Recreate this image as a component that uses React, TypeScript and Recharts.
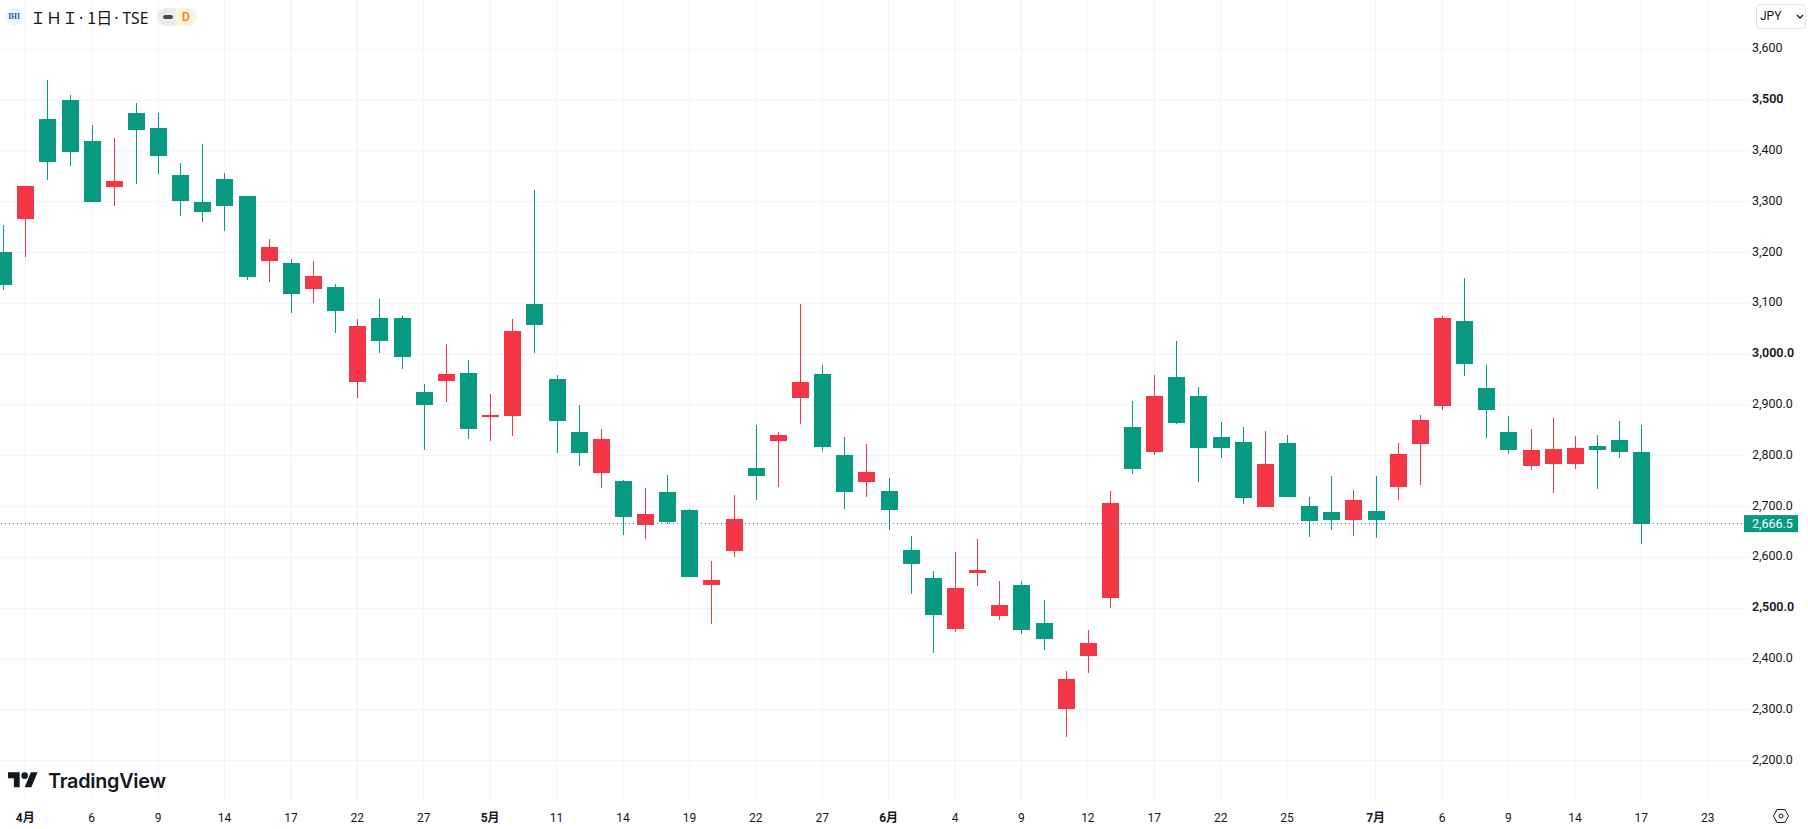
import React from "react";
import {
  ComposedChart,
  Bar,
  XAxis,
  YAxis,
  CartesianGrid,
  ReferenceLine,
} from "recharts";

// daily candles, first one is cut off by the left edge (idx -1)
const opens = [
  3201, 3266, 3463, 3500, 3420, 3329, 3475, 3445, 3353, 3300, 3345, 3311, 3184, 3179, 3128,
  3132, 2945, 3071, 3071, 2926, 2947, 2963, 2876, 2878, 3099, 2951, 2847, 2766, 2751, 2664,
  2729, 2693, 2546, 2613, 2776, 2829, 2914, 2961, 2802, 2748, 2731, 2615, 2559, 2459, 2569,
  2485, 2546, 2471, 2302, 2406, 2520, 2857, 2808, 2955, 2918, 2837, 2827, 2700, 2825, 2701,
  2690, 2674, 2692, 2739, 2823, 2898, 3065, 2933, 2847, 2780, 2784, 2784, 2819, 2831, 2808,
];
const highs = [
  3254, 3331, 3540, 3510, 3451, 3425, 3494, 3475, 3376, 3414, 3357, 3311, 3227, 3187, 3184,
  3138, 3069, 3109, 3075, 2941, 3020, 2989, 2922, 3069, 3323, 2959, 2900, 2853, 2753, 2737,
  2763, 2695, 2593, 2723, 2861, 2847, 3099, 2979, 2837, 2823, 2757, 2642, 2573, 2611, 2636,
  2554, 2554, 2516, 2377, 2457, 2731, 2908, 2959, 3026, 2935, 2867, 2857, 2849, 2841, 2719,
  2761, 2733, 2761, 2825, 2880, 3075, 3150, 2979, 2878, 2853, 2875, 2839, 2841, 2869, 2861,
];
const lows = [
  3126, 3191, 3343, 3370, 3300, 3292, 3335, 3355, 3272, 3260, 3242, 3146, 3142, 3081, 3101,
  3042, 2914, 3002, 2971, 2811, 2906, 2833, 2829, 2839, 3002, 2806, 2780, 2737, 2644, 2636,
  2666, 2561, 2469, 2601, 2713, 2739, 2863, 2809, 2695, 2719, 2654, 2528, 2412, 2453, 2544,
  2477, 2449, 2418, 2247, 2373, 2500, 2764, 2802, 2863, 2749, 2796, 2705, 2700, 2719, 2640,
  2654, 2642, 2638, 2713, 2743, 2890, 2957, 2835, 2804, 2772, 2727, 2774, 2735, 2796, 2627,
];
const closes = [
  3136, 3331, 3378, 3398, 3300, 3341, 3441, 3390, 3301, 3280, 3292, 3152, 3211, 3118, 3154,
  3085, 3056, 3026, 2994, 2900, 2961, 2853, 2880, 3046, 3057, 2868, 2806, 2833, 2680, 2685,
  2670, 2561, 2556, 2676, 2761, 2841, 2945, 2817, 2729, 2768, 2693, 2587, 2486, 2540, 2575,
  2506, 2457, 2439, 2361, 2432, 2707, 2774, 2918, 2865, 2815, 2815, 2717, 2784, 2719, 2672,
  2674, 2713, 2674, 2804, 2871, 3071, 2981, 2890, 2811, 2811, 2813, 2815, 2811, 2808, 2666.5,
];

const lastPrice = 2666.5;
const priceTicks = [3600, 3500, 3400, 3300, 3200, 3100, 3000, 2900, 2800, 2700, 2600, 2500, 2400, 2300, 2200];
const boldPrices = [3500, 3000, 2500];

const timeTicks = [
  0, 3, 6, 9, 12, 15, 18, 21, 24, 27, 30, 33, 36, 39, 42, 45, 48, 51, 54, 57, 61, 64, 67, 70, 73, 76,
];
const timeLabels = [
  "4月", "6", "9", "14", "17", "22", "27", "5月", "11", "14", "19", "22", "27",
  "6月", "4", "9", "12", "17", "22", "25", "7月", "6", "9", "14", "17", "23",
];

const UP = "#F23645";
const DOWN = "#089981";
const GRID = "#F0F3FA";
const TEXT = "#131722";
const FONT = "Roboto, 'Noto Sans CJK JP', sans-serif";

const rows = opens.map((open, i) => ({
  idx: i - 1,
  open,
  close: closes[i],
  range: [lows[i], highs[i]],
}));

const Candle = (props: any) => {
  const { x, y, width, height, payload } = props;
  const [low, high] = payload.range;
  const perUnit = height / (high - low);
  const top = Math.round(y + (high - Math.max(payload.open, payload.close)) * perUnit);
  const bottom = Math.round(y + (high - Math.min(payload.open, payload.close)) * perUnit);
  const color = payload.close >= payload.open ? UP : DOWN;
  // snap to whole pixels so the wick stays a solid 1px line
  const mid = Math.round(x + width / 2 - 0.5);
  return (
    <g shapeRendering="crispEdges">
      <rect x={mid} y={Math.round(y)} width={1} height={Math.round(height)} fill={color} />
      <rect x={mid - 8} y={top} width={17} height={Math.max(bottom - top, 2)} fill={color} />
    </g>
  );
};

const PriceTick = ({ x, y, payload }: any) => {
  const v = payload.value;
  if (v === lastPrice) {
    return (
      <g>
        <rect x={x - 6} y={y - 8.5} width={54} height={17} fill={DOWN} />
        <text x={x + 2} y={y + 4.5} fill="#fff" fontSize={12.5} fontFamily={FONT}>
          {v.toLocaleString("en-US", { minimumFractionDigits: 1 })}
        </text>
      </g>
    );
  }
  const label = v > 3000 ? v.toLocaleString("en-US") : v.toLocaleString("en-US", { minimumFractionDigits: 1 });
  return (
    <text
      x={x + 2}
      y={y + 3}
      fill={TEXT}
      fontSize={12.5}
      fontWeight={boldPrices.includes(v) ? 600 : 400}
      fontFamily={FONT}
    >
      {label}
    </text>
  );
};

const TimeTick = ({ x, y, payload }: any) => {
  const label = timeLabels[timeTicks.indexOf(payload.value)];
  return (
    <text
      x={x}
      y={y + 12}
      textAnchor="middle"
      fill={TEXT}
      fontSize={12}
      fontWeight={label.includes("月") ? 700 : 400}
      fontFamily={FONT}
    >
      {label}
    </text>
  );
};

const Dot = ({ left, right }: { left: number; right: number }) => (
  <span style={{ fontFamily: "'Noto Sans', sans-serif", marginLeft: left, marginRight: right }}>·</span>
);

const Header = () => (
  <div style={{ position: "absolute", left: 0, top: 0, height: 34, width: 210, fontFamily: FONT }}>
    <div
      style={{
        position: "absolute", left: 5, top: 8, width: 18, height: 18, borderRadius: 9, background: "#F0F3FA",
        color: "#0B5AA2", fontSize: 7.5, fontWeight: 700, lineHeight: "18px", textAlign: "center",
        fontFamily: "'Liberation Serif', serif",
      }}
    >
      IHI
    </div>
    <div
      style={{
        position: "absolute", left: 30, top: 5, fontSize: 16, lineHeight: "24px", color: TEXT, whiteSpace: "nowrap",
        fontFamily: "'Noto Sans CJK JP', sans-serif",
      }}
    >
      ＩＨＩ<Dot left={1} right={4} />1日<Dot left={2} right={4} />
      <span style={{ fontFamily: "'Noto Sans', sans-serif", fontSize: 15.5 }}>TSE</span>
    </div>
    <div style={{ position: "absolute", left: 157, top: 8, width: 19, height: 18, background: "#EBEBEB", borderRadius: "9px 0 0 9px" }}>
      <div style={{ position: "absolute", left: 6, top: 7, width: 10, height: 4, borderRadius: 2, background: "#4A4A4A" }} />
    </div>
    <div
      style={{
        position: "absolute", left: 176, top: 8, width: 21, height: 18, background: "#FFF3E0", borderRadius: "0 9px 9px 0",
        color: "#F57C00", fontSize: 12, lineHeight: "18px", fontWeight: 500, paddingLeft: 6, boxSizing: "border-box",
      }}
    >
      D
    </div>
  </div>
);

const CurrencyButton = () => (
  <div
    style={{
      position: "absolute", left: 1756, top: 4, width: 50, height: 25, boxSizing: "border-box",
      border: "1px solid #E0E3EB", borderRadius: 4, background: "#fff", fontFamily: FONT,
      fontSize: 12, lineHeight: "23px", color: TEXT, paddingLeft: 3,
    }}
  >
    JPY
    <svg width="8" height="5" viewBox="0 0 8 5" style={{ position: "absolute", left: 39, top: 9 }}>
      <path d="M1 1l3 3 3-3" fill="none" stroke={TEXT} strokeWidth="1.3" />
    </svg>
  </div>
);

const Logo = () => (
  <div style={{ position: "absolute", left: 8, top: 769, height: 24, display: "flex", alignItems: "center" }}>
    <svg width="30" height="23.3" viewBox="0 0 36 28">
      <path d="M14 22H7V11H0V4h14v18zM28 22h-8l7.5-18h8L28 22z" fill="#131722" />
      <circle cx="20" cy="8" r="4" fill="#131722" />
    </svg>
    <span style={{ marginLeft: 10, fontFamily: "Inter, sans-serif", fontWeight: 600, fontSize: 19.8, color: "#131722", letterSpacing: -0.25 }}>
      TradingView
    </span>
  </div>
);

const SettingsIcon = () => (
  <svg width="18" height="18" viewBox="0 0 18 18" style={{ position: "absolute", left: 1772, top: 807 }}>
    <path d="M5 2.5h8L16.5 9 13 15.5H5L1.5 9z" fill="none" stroke={TEXT} strokeWidth="1" />
    <circle cx="9" cy="9" r="2" fill="none" stroke={TEXT} strokeWidth="1" />
  </svg>
);

export default function App() {
  return (
    <div style={{ position: "absolute", left: 0, top: 0, width: 1808, height: 829, overflow: "hidden", background: "#fff" }}>
      <ComposedChart width={1808} height={829} data={rows} margin={{ top: 0, right: 0, bottom: 0, left: 0 }}>
        <CartesianGrid stroke={GRID} horizontalValues={priceTicks} verticalValues={timeTicks} />
        <XAxis
          dataKey="idx"
          type="number"
          domain={[-1.143, 77.91]}
          allowDataOverflow
          ticks={timeTicks}
          interval={0}
          height={27}
          axisLine={false}
          tickLine={false}
          tick={<TimeTick />}
        />
        <YAxis
          orientation="right"
          width={58}
          domain={[2118.6, 3697]}
          allowDataOverflow
          ticks={[...priceTicks, lastPrice]}
          interval={0}
          axisLine={false}
          tickLine={false}
          tickMargin={0}
          tickSize={0}
          tick={<PriceTick />}
        />
        <Bar dataKey="range" barSize={17} isAnimationActive={false} shape={<Candle />} />
        <ReferenceLine y={lastPrice} stroke={DOWN} strokeDasharray="1.5 2.5" shapeRendering="crispEdges" />
      </ComposedChart>
      <Header />
      <CurrencyButton />
      <Logo />
      <SettingsIcon />
    </div>
  );
}
